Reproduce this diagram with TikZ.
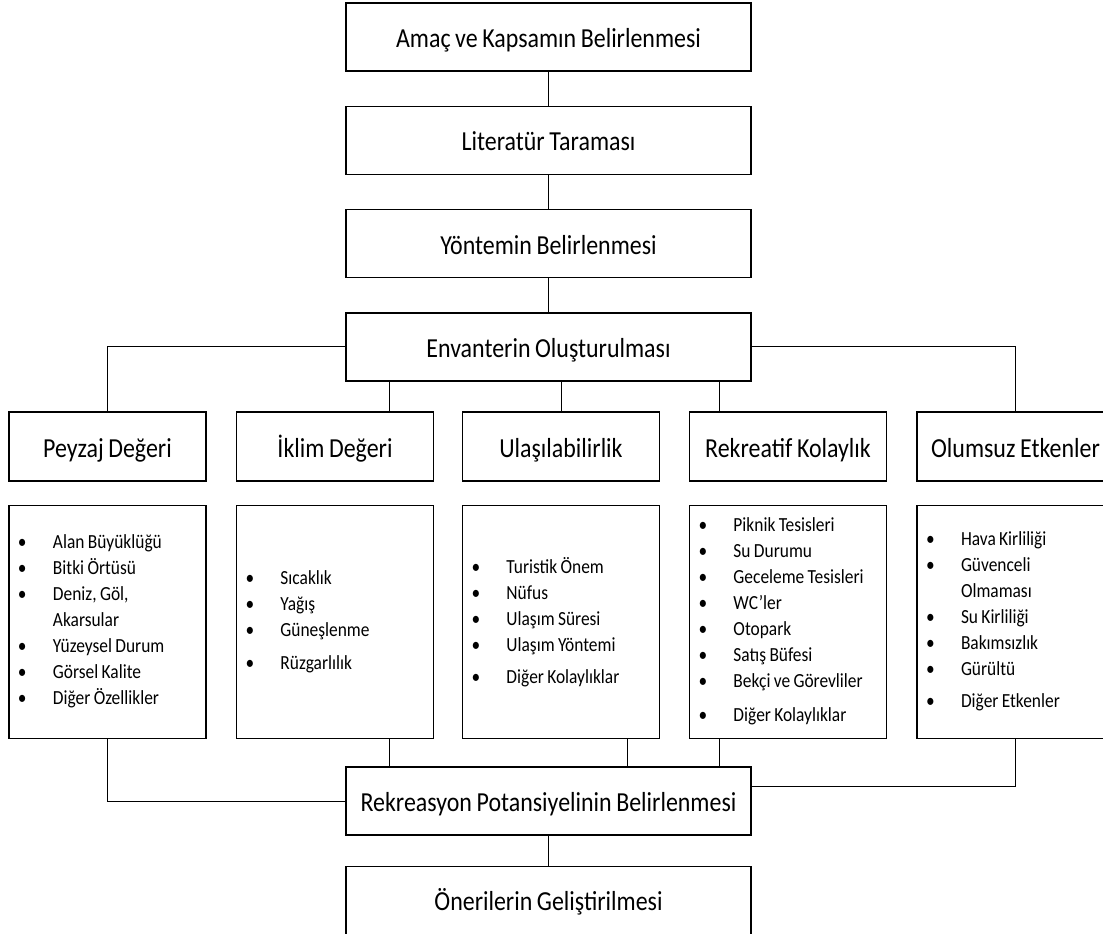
\documentclass[tikz,border=0pt]{standalone}
\usepackage{fontspec}
\setmainfont{Carlito}[FakeStretch=0.87, WordSpace=0.85]
\usetikzlibrary{positioning}
\tikzset{
  stepbox/.style={rectangle, draw, line width=1.3pt, minimum width=405pt, minimum height=68pt, inner sep=0pt, text height=26pt, text depth=5pt, font=\fontsize{27.5}{30}\selectfont},
  headbox/.style={stepbox, minimum width=197pt, minimum height=69pt},
  listbox/.style={rectangle, draw, line width=1.1pt, minimum width=197pt, minimum height=233pt, text width=197pt, align=flush left, inner sep=0pt, font=\fontsize{20}{26}\selectfont},
  link/.style={line width=0.9pt},
}
\newcommand{\itm}[1]{\hspace*{9pt}\makebox[35pt][l]{\textbullet}#1}
\newcommand{\cnt}[1]{\hspace*{44pt}#1}

\begin{document}
\begin{tikzpicture}[x=1pt, y=-1pt, node distance=34pt]
\clip (0,0) rectangle (1103,934);
% main chain
\node[stepbox] (amac) at (548.5,37) {Amaç ve Kapsamın Belirlenmesi};
\node[stepbox, below=of amac] (literatur) {Literatür Taraması};
\node[stepbox, below=of literatur] (yontem) {Yöntemin Belirlenmesi};
\node[stepbox, below=of yontem] (envanter) {Envanterin Oluşturulması};
% criteria
\node[headbox] (peyzaj) at (107.5,446.5) {Peyzaj Değeri};
\node[headbox] (iklim) at (335,446.5) {İklim Değeri};
\node[headbox] (ulas) at (561,446.5) {Ulaşılabilirlik};
\node[headbox] (rekr) at (788,446.5) {Rekreatif Kolaylık};
\node[headbox] (olumsuz) at (1015.5,446.5) {Olumsuz Etkenler};
% item lists
\node[listbox, below=23pt of peyzaj] (peyzajL) {\itm{Alan Büyüklüğü}\\ \itm{Bitki Örtüsü}\\ \itm{Deniz, Göl,}\\ \cnt{Akarsular}\\ \itm{Yüzeysel Durum}\\ \itm{Görsel Kalite}\\ \itm{Diğer Özellikler}};
\node[listbox, below=23pt of iklim] (iklimL) {\itm{Sıcaklık}\\ \itm{Yağış}\\ \itm{Güneşlenme}\\[7pt] \itm{Rüzgarlılık}};
\node[listbox, below=23pt of ulas] (ulasL) {\itm{Turistik Önem}\\ \itm{Nüfus}\\ \itm{Ulaşım Süresi}\\ \itm{Ulaşım Yöntemi}\\[6pt] \itm{Diğer Kolaylıklar}};
\node[listbox, below=23pt of rekr] (rekrL) {\itm{Piknik Tesisleri}\\ \itm{Su Durumu}\\ \itm{Geceleme Tesisleri}\\ \itm{WC’ler}\\ \itm{Otopark}\\ \itm{Satış Büfesi}\\ \itm{Bekçi ve Görevliler}\\[8pt] \itm{Diğer Kolaylıklar}};
\node[listbox, below=23pt of olumsuz] (olumsuzL) {\itm{Hava Kirliliği}\\ \itm{Güvenceli}\\ \cnt{Olmaması}\\ \itm{Su Kirliliği}\\ \itm{Bakımsızlık}\\ \itm{Gürültü}\\[6pt] \itm{Diğer Etkenler}};
% result
\node[stepbox] (potansiyel) at (548.5,801) {Rekreasyon Potansiyelinin Belirlenmesi};
\node[stepbox, below=30pt of potansiyel] (oneri) {Önerilerin Geliştirilmesi};
% column tracks
\coordinate (k2) at (389,0);
\coordinate (k3) at (627,0);
\coordinate (k4) at (719,0);
% links
\draw[link] (amac) -- (literatur);
\draw[link] (literatur) -- (yontem);
\draw[link] (yontem) -- (envanter);
\draw[link] (envanter.west) -| (peyzaj.north);
\draw[link] (envanter.east) -| (olumsuz.north);
\draw[link] (envanter.south -| k2) -- (iklim.north -| k2);
\draw[link] (envanter.south -| ulas.north) -- (ulas.north);
\draw[link] (envanter.south -| k4) -- (rekr.north -| k4);
\draw[link] (peyzajL.south) |- (potansiyel.west);
\draw[link] (iklimL.south -| k2) -- (potansiyel.north -| k2);
\draw[link] (ulasL.south -| k3) -- (potansiyel.north -| k3);
\draw[link] (rekrL.south -| k4) -- (potansiyel.north -| k4);
\draw[link] (olumsuzL.south) |- ([yshift=15pt]potansiyel.east);
\draw[link] (potansiyel) -- (oneri);
\end{tikzpicture}
\end{document}
